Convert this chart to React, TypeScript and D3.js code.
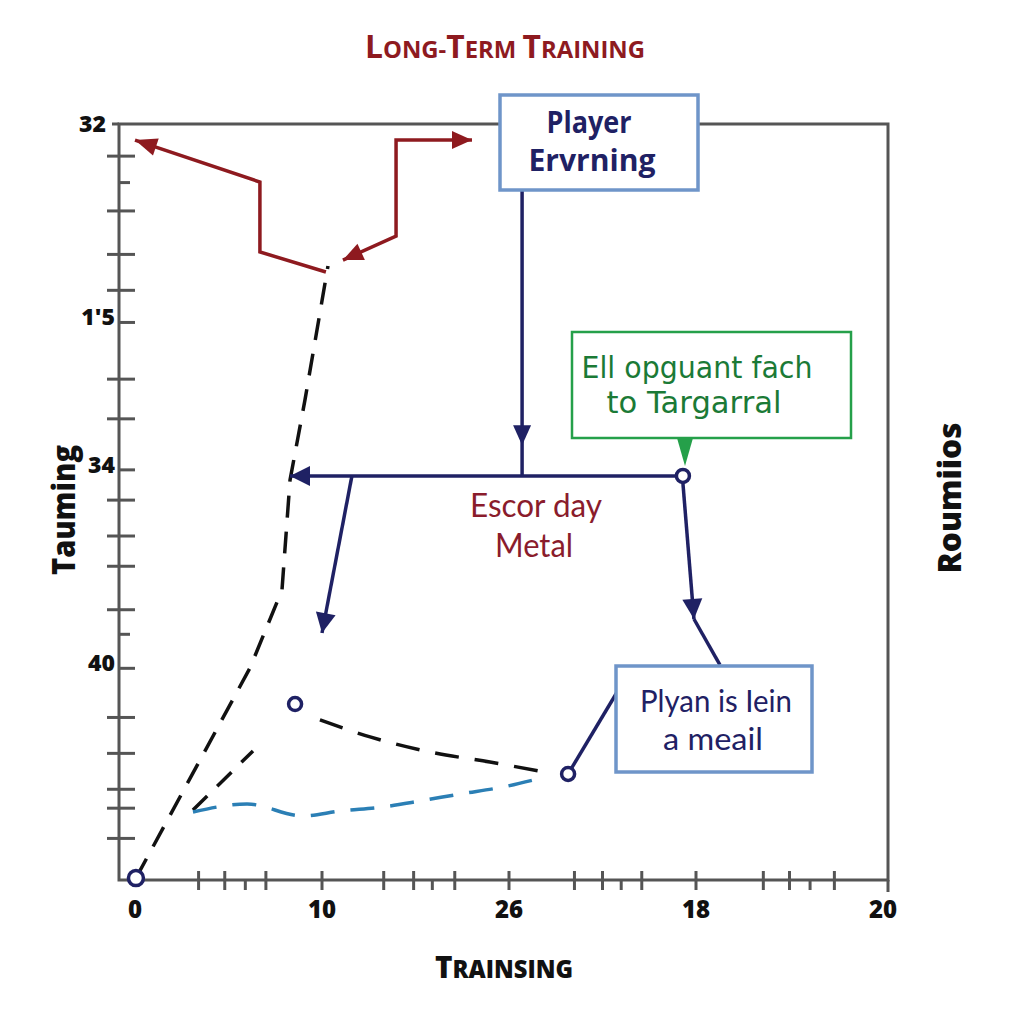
import React from "react";
import * as d3 from "d3";

// ---------- data ----------
const xMajorTicks = [0, 10, 20, 30, 40];
const xMajorLabels = ["0", "10", "26", "18", "20"];
const xMinorTicks = [3.4, 4.8, 7.0, 13.3, 14.9, 17.1, 23.5, 25.0, 27.1, 33.6, 35.0, 37.4];
const xShortTicks = [5.9, 15.9, 26.0, 36.1];

const yFullTicks = [38.3, 35.4, 33.1, 31.2, 26.5, 24.4, 20.1, 18.2, 16.6, 14.3, 8.6, 6.7, 4.8, 3.8, 2.2];
const yShortTicks = [36.9, 13.0];
const yLabelTicks = [40, 29.5, 21.7, 11.2];
const yLabels = ["32", "1'5", "34", "40"];

// red arrows (x, y in data units)
const redPathA: [number, number][] = [[10.21, 32.17], [6.68, 33.23], [6.68, 36.93], [0.0, 39.15]];
const redPathB: [number, number][] = [[11.12, 32.8], [13.96, 34.07], [13.96, 39.15], [18.02, 39.15]];

// black dashed
const blackDashA: [number, number][] = [[0.05, 0.1], [6.15, 11.22], [7.86, 15.34], [8.29, 21.16], [9.09, 25.4], [10.32, 32.49]];
const blackDashB: [number, number][] = [[3.1, 3.7], [6.31, 6.83]];
const blackDashC: [number, number][] = [[9.89, 8.47], [12.57, 7.57], [15.78, 6.77], [18.98, 6.24], [21.93, 5.71]];

// blue dashed
const blueDash: [number, number][] = [[3.1, 3.6], [5.99, 4.02], [8.98, 3.39], [10.96, 3.65], [13.21, 3.86], [15.24, 4.18], [17.38, 4.55], [19.68, 4.92], [21.93, 5.45]];

// open markers
const circles: [number, number][] = [[0.05, 0.1], [8.56, 9.31], [23.16, 5.61], [29.3, 21.38]];

// navy connectors
const navyHoriz: [number, number][] = [[29.3, 21.38], [8.29, 21.38]];
const navyVert: [number, number][] = [[20.7, 36.46], [20.7, 21.38]];
const navyVertArrowY = 23.0;
const navyBranch: [number, number][] = [[11.6, 21.38], [10.0, 13.07]];
const navyDown: [number, number][] = [[29.3, 21.0], [29.89, 13.81]];
const navyDownTail: [number, number][] = [[29.89, 13.81], [31.28, 11.38]];
const navyToBox: [number, number][] = [[23.16, 5.61], [26.04, 10.37]];

// ---------- layout ----------
const W = 1024, H = 1024;
const x = d3.scaleLinear().domain([0, 40]).range([135, 883]);
const y = d3.scaleLinear().domain([0, 40]).range([880, 124]);
const FL = 119, FR = 888, FT = 124, FB = 880;

const RED = "#8e1a1f";
const NAVY = "#1f2164";
const BLUE = "#2b7fb5";
const GREY = "#555555";
const BOXBLUE = "#6f95c9";
const GREEN = "#25a04a";
const GREENTXT = "#1b7a36";

const line = d3.line<[number, number]>().x(d => x(d[0])).y(d => y(d[1]));
const curve = d3.line<[number, number]>().x(d => x(d[0])).y(d => y(d[1])).curve(d3.curveMonotoneX);

function arrowHead(tip: [number, number], from: [number, number], len: number, half: number) {
  const tx = x(tip[0]), ty = y(tip[1]);
  const fx = x(from[0]), fy = y(from[1]);
  const dx = tx - fx, dy = ty - fy;
  const L = Math.hypot(dx, dy);
  const ux = dx / L, uy = dy / L;
  const bx = tx - ux * len, by = ty - uy * len;
  const px = -uy, py = ux;
  return `${tx},${ty} ${bx + px * half},${by + py * half} ${bx - px * half},${by - py * half}`;
}

export default function App() {
  const sans = "'Open Sans', 'DejaVu Sans', sans-serif";
  return (
    <svg width={W} height={H} style={{ position: "absolute", left: 0, top: 0, background: "#fff" }}>
      <rect x={0} y={0} width={W} height={H} fill="#ffffff" />

      {/* title */}
      <text x={505} y={58} textAnchor="middle" fontFamily={sans} fontWeight={700} fill={RED} textLength={280} lengthAdjust="spacingAndGlyphs">
        <tspan fontSize={32}>L</tspan><tspan fontSize={24}>ONG-</tspan><tspan fontSize={32}>T</tspan><tspan fontSize={24}>ERM </tspan><tspan fontSize={32}>T</tspan><tspan fontSize={24}>RAINING</tspan>
      </text>

      {/* frame */}
      <rect x={FL} y={FT} width={FR - FL} height={FB - FT} fill="none" stroke={GREY} strokeWidth={3} />

      {/* y ticks */}
      {yFullTicks.map((v, i) => <line key={"yf" + i} x1={107} x2={135} y1={y(v)} y2={y(v)} stroke={GREY} strokeWidth={3} />)}
      {yShortTicks.map((v, i) => <line key={"ys" + i} x1={FL} x2={130} y1={y(v)} y2={y(v)} stroke={GREY} strokeWidth={3} />)}
      {yLabelTicks.map((v, i) => <line key={"yl" + i} x1={i === 0 ? 112 : FL} x2={i === 0 ? FL : 135} y1={y(v)} y2={y(v)} stroke={GREY} strokeWidth={3} />)}
      {yLabelTicks.map((v, i) => (
        <text key={"yt" + i} x={i === 0 ? 106 : 115} y={y(v) + (i === 0 ? 8 : 3)} textAnchor="end" fontFamily={sans} fontWeight={800} fontSize={23} fill="#111">{yLabels[i]}</text>
      ))}

      {/* x ticks */}
      {xMajorTicks.slice(1, 4).concat(xMinorTicks).map((v, i) => <line key={"xf" + i} x1={x(v)} x2={x(v)} y1={871} y2={890} stroke={GREY} strokeWidth={3} />)}
      {xShortTicks.map((v, i) => <line key={"xs" + i} x1={x(v)} x2={x(v)} y1={FB} y2={890} stroke={GREY} strokeWidth={3} />)}
      <line x1={FR} x2={FR} y1={FB} y2={892} stroke={GREY} strokeWidth={3} />
      {xMajorTicks.map((v, i) => (
        <text key={"xt" + i} x={x(v)} y={918} textAnchor="middle" fontFamily={sans} fontWeight={800} fontSize={24} fill="#111">{xMajorLabels[i]}</text>
      ))}

      {/* axis titles */}
      <text x={504} y={978} textAnchor="middle" fontFamily={sans} fontWeight={800} fill="#111" textLength={138} lengthAdjust="spacingAndGlyphs">
        <tspan fontSize={30}>T</tspan><tspan fontSize={24}>RAINSING</tspan>
      </text>
      <text transform="translate(75,510) rotate(-90)" textAnchor="middle" fontFamily={sans} fontWeight={800} fontSize={31} fill="#111" textLength={130} lengthAdjust="spacingAndGlyphs">Tauming</text>
      <text transform="translate(961,498) rotate(-90)" textAnchor="middle" fontFamily={sans} fontWeight={800} fontSize={31} fill="#111" textLength={151} lengthAdjust="spacingAndGlyphs">Roumiios</text>

      {/* red arrows */}
      <path d={line(redPathA) || ""} fill="none" stroke={RED} strokeWidth={3.5} strokeLinejoin="miter" />
      <polygon points={arrowHead(redPathA[3], redPathA[2], 22, 9)} fill={RED} />
      <path d={line(redPathB) || ""} fill="none" stroke={RED} strokeWidth={3.5} />
      <polygon points={arrowHead(redPathB[0], redPathB[1], 20, 9)} fill={RED} />
      <polygon points={arrowHead(redPathB[3], redPathB[2], 20, 9)} fill={RED} />

      {/* dashed lines */}
      <path d={line(blackDashA) || ""} fill="none" stroke="#111" strokeWidth={3.5} strokeDasharray="22 14" />
      <path d={line(blackDashB) || ""} fill="none" stroke="#111" strokeWidth={3.5} strokeDasharray="20 14" />
      <path d={curve(blackDashC) || ""} fill="none" stroke="#111" strokeWidth={3.5} strokeDasharray="24 16" />
      <path d={curve(blueDash) || ""} fill="none" stroke={BLUE} strokeWidth={3.5} strokeDasharray="24 16" />

      {/* navy connectors */}
      <path d={line(navyVert) || ""} fill="none" stroke={NAVY} strokeWidth={3.5} />
      <polygon points={arrowHead([20.7, navyVertArrowY], [20.7, 30], 20, 9)} fill={NAVY} />
      <path d={line(navyHoriz) || ""} fill="none" stroke={NAVY} strokeWidth={3.5} />
      <polygon points={arrowHead(navyHoriz[1], navyHoriz[0], 20, 10)} fill={NAVY} />
      <path d={line(navyBranch) || ""} fill="none" stroke={NAVY} strokeWidth={3.5} />
      <polygon points={arrowHead(navyBranch[1], navyBranch[0], 20, 10)} fill={NAVY} />
      <path d={line(navyDown) || ""} fill="none" stroke={NAVY} strokeWidth={3.5} />
      <polygon points={arrowHead(navyDown[1], navyDown[0], 20, 10)} fill={NAVY} />
      <path d={line(navyDownTail) || ""} fill="none" stroke={NAVY} strokeWidth={3.5} />
      <path d={line(navyToBox) || ""} fill="none" stroke={NAVY} strokeWidth={3.5} />

      {/* open markers */}
      {circles.map((c, i) => (
        <circle key={"c" + i} cx={x(c[0])} cy={y(c[1])} r={i === 0 ? 7.5 : 6.5} fill="#fff" stroke={NAVY} strokeWidth={3.5} />
      ))}

      {/* Player box */}
      <rect x={500} y={95} width={198} height={95} fill="#fff" stroke={BOXBLUE} strokeWidth={3.5} />
      <text x={589} y={133} textAnchor="middle" fontFamily={sans} fontWeight={700} fontSize={30} fill={NAVY} textLength={85} lengthAdjust="spacingAndGlyphs">Player</text>
      <text x={592} y={171} textAnchor="middle" fontFamily={sans} fontWeight={700} fontSize={30} fill={NAVY} textLength={127} lengthAdjust="spacingAndGlyphs">Ervrning</text>

      {/* green box */}
      <rect x={572} y={332} width={279} height={106} fill="#fff" stroke={GREEN} strokeWidth={2.5} />
      <polygon points="677,438 693,438 685,466" fill={GREEN} />
      <text x={697} y={378} textAnchor="middle" fontFamily="'DejaVu Sans', sans-serif" fontSize={30} fill={GREENTXT} textLength={231} lengthAdjust="spacingAndGlyphs">Ell opguant fach</text>
      <text x={694} y={413} textAnchor="middle" fontFamily="'DejaVu Sans', sans-serif" fontSize={30} fill={GREENTXT} textLength={175} lengthAdjust="spacingAndGlyphs">to Targarral</text>

      {/* center text */}
      <text x={536} y={517} textAnchor="middle" fontFamily="Lato, sans-serif" fontSize={33} fill="#8a1c2c" textLength={132} lengthAdjust="spacingAndGlyphs">Escor day</text>
      <text x={534} y={557} textAnchor="middle" fontFamily="Lato, sans-serif" fontSize={33} fill="#8a1c2c" textLength={78} lengthAdjust="spacingAndGlyphs">Metal</text>

      {/* bottom box */}
      <rect x={616} y={666} width={196} height={106} fill="#fff" stroke={BOXBLUE} strokeWidth={3.5} />
      <text x={716} y={712} textAnchor="middle" fontFamily="Lato, sans-serif" fontSize={31} fill={NAVY} textLength={152} lengthAdjust="spacingAndGlyphs">Plyan is Iein</text>
      <text x={713} y={750} textAnchor="middle" fontFamily="Lato, sans-serif" fontSize={31} fill={NAVY} textLength={100} lengthAdjust="spacingAndGlyphs">a meail</text>
    </svg>
  );
}
